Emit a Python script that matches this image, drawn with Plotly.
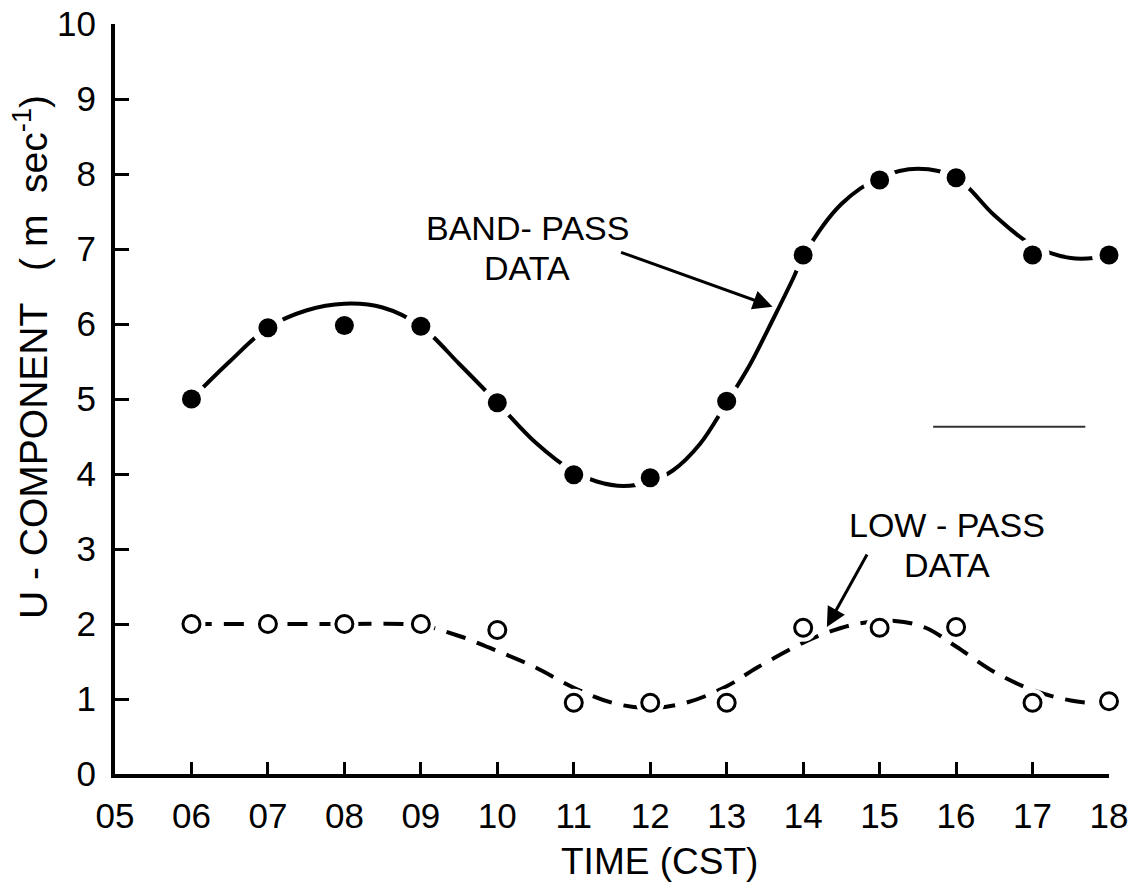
import plotly.graph_objects as go

# ---- data ----
hours = [6, 7, 8, 9, 10, 11, 12, 13, 14, 15, 16, 17, 18]
band_pass = [5.0, 5.95, 5.98, 5.97, 4.95, 3.99, 3.95, 4.97, 6.92, 7.92, 7.95, 6.92, 6.92]
low_pass = [2.0, 2.0, 2.0, 2.0, 1.92, 0.95, 0.95, 0.95, 1.95, 1.95, 1.96, 0.95, 0.97]

band_curve_x = [6.0, 6.5, 7.0, 7.5, 8.0, 8.5, 9.0, 9.5, 10.0, 10.5, 11.0, 11.3, 11.65, 12.0,
                12.3, 12.65, 13.0, 13.3, 13.6, 13.87, 14.0, 14.5, 15.0, 15.5, 16.0, 16.5, 17.0, 17.5, 18.0]
band_curve_y = [5.0, 5.5, 5.95, 6.18, 6.27, 6.22, 5.97, 5.47, 4.95, 4.42, 4.03, 3.9, 3.84, 3.9,
                4.05, 4.4, 4.95, 5.45, 6.05, 6.61, 6.9, 7.6, 7.95, 8.07, 7.95, 7.45, 7.05, 6.88, 6.9]

low_curve_x = [6.0, 7.0, 8.0, 9.0, 9.5, 10.0, 10.5, 11.0, 11.5, 12.0, 12.5, 13.0, 13.4, 14.0,
               14.3, 14.7, 15.2, 15.6, 16.0, 16.5, 17.0, 17.5, 18.0]
low_curve_y = [2.0, 2.0, 2.0, 1.98, 1.84, 1.64, 1.42, 1.15, 0.95, 0.88, 0.96, 1.17, 1.42, 1.75,
               1.88, 2.0, 2.04, 1.95, 1.7, 1.36, 1.12, 0.98, 0.93]

x_tick_vals = list(range(5, 19))
x_tick_text = ["05", "06", "07", "08", "09", "10", "11", "12", "13", "14", "15", "16", "17", "18"]
y_tick_vals = list(range(0, 11))
y_tick_text = [str(v) for v in y_tick_vals]

stray_x = [15.7, 17.69]
stray_y = [4.63, 4.63]

FONT = "Liberation Sans"

fig = go.Figure()

# band-pass smooth curve
fig.add_trace(go.Scatter(x=band_curve_x, y=band_curve_y, mode="lines",
                         line=dict(color="black", width=4, shape="spline", smoothing=1.0),
                         hoverinfo="skip", showlegend=False))
# low-pass dashed curve
fig.add_trace(go.Scatter(x=low_curve_x, y=low_curve_y, mode="lines",
                         line=dict(color="black", width=4, shape="spline", smoothing=1.0,
                                   dash="20px,12px"),
                         hoverinfo="skip", showlegend=False))
# white halos to break the curves around points
fig.add_trace(go.Scatter(x=hours, y=band_pass, mode="markers",
                         marker=dict(color="white", size=34, line=dict(width=0)),
                         cliponaxis=False, hoverinfo="skip", showlegend=False))
fig.add_trace(go.Scatter(x=hours, y=low_pass, mode="markers",
                         marker=dict(color="white", size=28, line=dict(width=0)),
                         cliponaxis=False, hoverinfo="skip", showlegend=False))
# data points
fig.add_trace(go.Scatter(x=hours, y=band_pass, mode="markers", name="BAND-PASS DATA",
                         marker=dict(color="black", size=19, line=dict(width=0)),
                         cliponaxis=False, showlegend=False))
fig.add_trace(go.Scatter(x=hours, y=low_pass, mode="markers", name="LOW-PASS DATA",
                         marker=dict(color="white", size=17, line=dict(color="black", width=3)),
                         cliponaxis=False, showlegend=False))

# stray line in the scan
fig.add_shape(type="line", x0=stray_x[0], x1=stray_x[1], y0=stray_y[0], y1=stray_y[1],
              xref="x", yref="y", line=dict(color="#333333", width=2))

ann_font = dict(family=FONT, size=34, color="black")
fig.add_annotation(x=10.39, y=7.28, xref="x", yref="y", text="BAND- PASS",
                   showarrow=False, font=ann_font)
fig.add_annotation(x=10.39, y=6.75, xref="x", yref="y", text="DATA",
                   showarrow=False, font=ann_font)
fig.add_annotation(x=13.6, y=6.23, xref="x", yref="y", text="", showarrow=True,
                   ax=-153, ay=-55, arrowhead=2, arrowsize=1.3, arrowwidth=3, arrowcolor="black")

fig.add_annotation(x=15.88, y=3.32, xref="x", yref="y", text="LOW - PASS",
                   showarrow=False, font=ann_font)
fig.add_annotation(x=15.88, y=2.79, xref="x", yref="y", text="DATA",
                   showarrow=False, font=ann_font)
fig.add_annotation(x=14.31, y=1.96, xref="x", yref="y", text="", showarrow=True,
                   ax=41, ay=-74, arrowhead=2, arrowsize=1.3, arrowwidth=3, arrowcolor="black")

# axis titles
fig.add_annotation(xref="paper", yref="paper", x=0, y=0.556, xshift=-84,
                   text="U - COMPONENT   ( m  sec<sup>-1</sup>)", textangle=-90,
                   showarrow=False, font=dict(family=FONT, size=39, color="black"),
                   xanchor="center", yanchor="middle")
fig.add_annotation(xref="paper", yref="paper", x=0.548, y=0, yshift=-110,
                   text="TIME (CST)", showarrow=False,
                   font=dict(family=FONT, size=37, color="black"),
                   xanchor="center", yanchor="bottom")

axis_common = dict(showline=True, linecolor="black", linewidth=4, ticks="inside",
                   tickcolor="black", tickwidth=3, showgrid=False, zeroline=False,
                   automargin=False, ticklabeloverflow="allow",
                   tickfont=dict(family=FONT, size=35, color="black"))
fig.update_xaxes(range=[5, 18], tickvals=x_tick_vals, ticktext=x_tick_text, ticklen=12,
                 ticklabelstandoff=8, **axis_common)
fig.update_yaxes(range=[0, 10], tickvals=y_tick_vals, ticktext=y_tick_text, ticklen=14,
                 ticklabelstandoff=8, **axis_common)

fig.update_layout(width=1130, height=885, margin=dict(l=115, r=21, t=24, b=111),
                  paper_bgcolor="white", plot_bgcolor="white", showlegend=False)

# remove the page's default 8px body margin so the figure fills the window exactly
fig.write_html("out.html", config={"displayModeBar": False},
               post_script="document.body.style.margin='0px';document.body.style.overflow='hidden';")
